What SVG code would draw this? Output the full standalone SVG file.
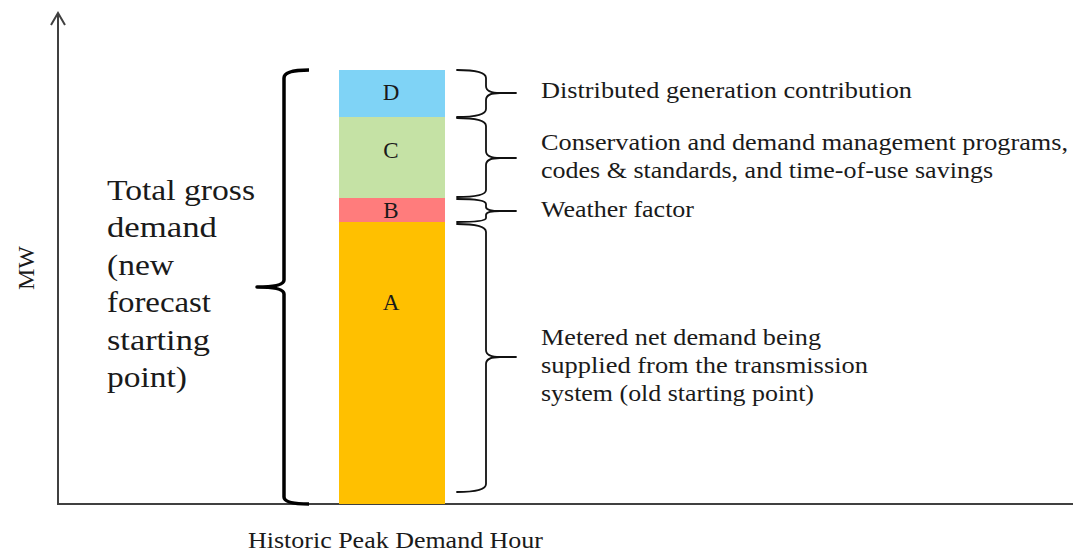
<svg xmlns="http://www.w3.org/2000/svg" width="1073" height="552" viewBox="0 0 1073 552">
<style>
text { font-family: "Liberation Serif", "Times New Roman", serif; fill: #1a1a1a; }
.lbl { font-size: 24px; }
.seg { font-size: 23px; text-anchor: middle; }
.big { font-size: 30px; }
.axis { stroke: #404040; stroke-width: 2; fill: none; }
.brace { stroke: #111; stroke-width: 1.8; fill: none; stroke-linecap: round; }
.bigbrace { stroke: #000; stroke-width: 3.5; fill: none; stroke-linejoin: round; }
</style>
<rect width="1073" height="552" fill="#fff"/>
<g id="axes">
  <line class="axis" x1="58" y1="14" x2="58" y2="504"/>
  <line class="axis" x1="57" y1="504" x2="1073" y2="504"/>
  <polyline class="axis" points="51,25 58,13 65,25"/>
  <text class="lbl" x="0" y="0" font-size="22" text-anchor="middle" transform="translate(34,268) rotate(-90)">MW</text>
  <text class="lbl" x="248" y="548" textLength="295" lengthAdjust="spacingAndGlyphs">Historic Peak Demand Hour</text>
</g>
<g id="segD">
  <rect x="339" y="70" width="106" height="47" fill="#7fd3f6"/>
  <text class="seg" x="391" y="100">D</text>
</g>
<g id="segC">
  <rect x="339" y="117" width="106" height="81" fill="#c5e2a5"/>
  <text class="seg" x="391" y="158">C</text>
</g>
<g id="segB">
  <rect x="339" y="198" width="106" height="24" fill="#ff7c7c"/>
  <text class="seg" x="391" y="218">B</text>
</g>
<g id="segA">
  <rect x="339" y="222" width="106" height="282" fill="#ffc000"/>
  <text class="seg" x="391" y="310">A</text>
</g>
<g id="connectors">
  <path class="bigbrace" d="M309,70 Q284,70 284,78 L284,280 Q284,287 257,287 Q284,287 284,294 L284,497 Q284,504 309,504"/>
  <path class="brace" d="M457,70 Q486,70 486,78 L486,86 Q486,93 500,93 L516,93 M500,93 Q486,93 486,100 L486,109 Q486,117 457,117"/>
  <path class="brace" d="M457,118 Q486,118 486,126 L486,151 Q486,158 500,158 L516,158 M500,158 Q486,158 486,165 L486,190 Q486,197 457,197"/>
  <path class="brace" d="M457,199 Q486,199 486,204 L486,207 Q486,211 500,211 L516,211 M500,211 Q486,211 486,215 L486,218 Q486,222 457,222"/>
  <path class="brace" d="M457,224 Q486,224 486,232 L486,350 Q486,357 500,357 L516,357 M500,357 Q486,357 486,364 L486,484 Q486,492 457,492"/>
</g>
<g id="total">
  <text class="big" x="107" y="200" textLength="148" lengthAdjust="spacingAndGlyphs">Total gross</text>
  <text class="big" x="107" y="237" textLength="110" lengthAdjust="spacingAndGlyphs">demand</text>
  <text class="big" x="107" y="275" textLength="67" lengthAdjust="spacingAndGlyphs">(new</text>
  <text class="big" x="107" y="312" textLength="104" lengthAdjust="spacingAndGlyphs">forecast</text>
  <text class="big" x="107" y="350" textLength="103" lengthAdjust="spacingAndGlyphs">starting</text>
  <text class="big" x="107" y="387" textLength="80" lengthAdjust="spacingAndGlyphs">point)</text>
</g>
<g id="labelD">
  <text class="lbl" x="541" y="98" textLength="371" lengthAdjust="spacingAndGlyphs">Distributed generation contribution</text>
</g>
<g id="labelC">
  <text class="lbl" x="541" y="150" textLength="527" lengthAdjust="spacingAndGlyphs">Conservation and demand management programs,</text>
  <text class="lbl" x="541" y="178" textLength="452" lengthAdjust="spacingAndGlyphs">codes &amp; standards, and time-of-use savings</text>
</g>
<g id="labelB">
  <text class="lbl" x="541" y="217" textLength="153" lengthAdjust="spacingAndGlyphs">Weather factor</text>
</g>
<g id="labelA">
  <text class="lbl" x="541" y="345" textLength="280" lengthAdjust="spacingAndGlyphs">Metered net demand being</text>
  <text class="lbl" x="541" y="373" textLength="327" lengthAdjust="spacingAndGlyphs">supplied from the transmission</text>
  <text class="lbl" x="541" y="401" textLength="273" lengthAdjust="spacingAndGlyphs">system (old starting point)</text>
</g>
</svg>
